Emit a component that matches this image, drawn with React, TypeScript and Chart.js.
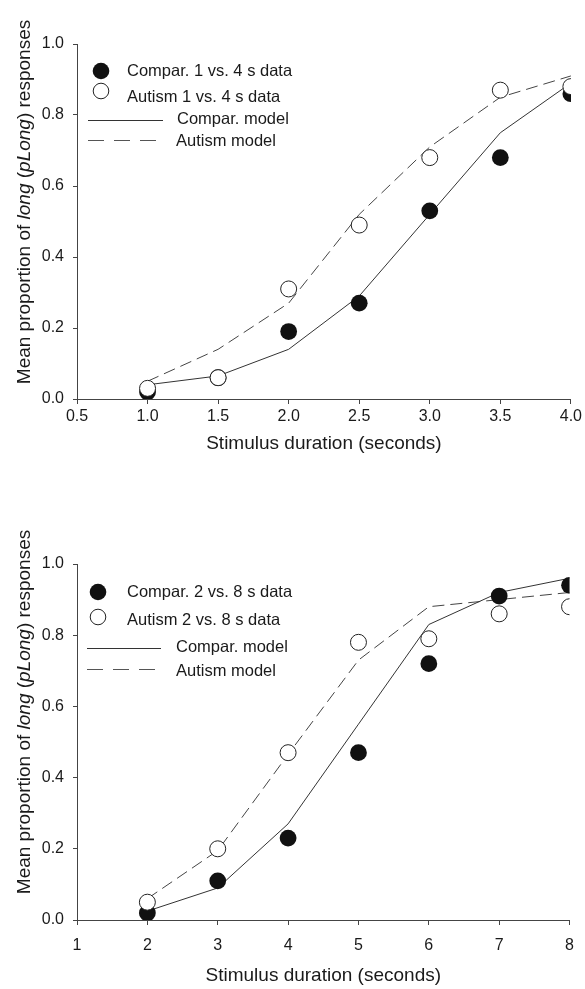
import React, { useEffect, useRef } from "react";
import { Chart, registerables } from "chart.js";

Chart.register(...registerables);

const FONT = "'Liberation Sans', Arial, Helvetica, sans-serif";

// ---- Panel A: 1 vs. 4 s ----
const durationsA = [1.0, 1.5, 2.0, 2.5, 3.0, 3.5, 4.0];
const comparDataA = [0.02, 0.06, 0.19, 0.27, 0.53, 0.68, 0.86];
const autismDataA = [0.03, 0.06, 0.31, 0.49, 0.68, 0.87, 0.88];
const comparModelA = [0.04, 0.065, 0.14, 0.29, 0.52, 0.75, 0.89];
const autismModelA = [0.05, 0.14, 0.27, 0.52, 0.71, 0.85, 0.91];
const xTicksA = [0.5, 1.0, 1.5, 2.0, 2.5, 3.0, 3.5, 4.0];
const legendA = ["Compar. 1 vs. 4 s data", "Autism 1 vs. 4 s data", "Compar. model", "Autism model"];

// ---- Panel B: 2 vs. 8 s ----
const durationsB = [2, 3, 4, 5, 6, 7, 8];
const comparDataB = [0.02, 0.11, 0.23, 0.47, 0.72, 0.91, 0.94];
const autismDataB = [0.05, 0.2, 0.47, 0.78, 0.79, 0.86, 0.88];
const comparModelB = [0.025, 0.09, 0.27, 0.55, 0.83, 0.92, 0.96];
const autismModelB = [0.06, 0.195, 0.465, 0.73, 0.88, 0.9, 0.92];
const xTicksB = [1, 2, 3, 4, 5, 6, 7, 8];
const legendB = ["Compar. 2 vs. 8 s data", "Autism 2 vs. 8 s data", "Compar. model", "Autism model"];

const yTicks = [0, 0.2, 0.4, 0.6, 0.8, 1.0];
const xTitle = "Stimulus duration (seconds)";
const yTitleParts: [string, boolean][] = [
  ["Mean proportion of ", false],
  ["long", true],
  [" (", false],
  ["pLong", true],
  [") responses", false],
];

const INK = "#1a1a1a";
const AXIS = "#444";

type Layout = {
  height: number;
  padTop: number;
  xAxisHeight: number;
  xTickPad: number;
  xTitleDy: number;
  yTitleCy: number;
  leg: {
    dot: [number, number];
    dotText: [number, number];
    open: [number, number];
    openText: [number, number];
    solid: [number, number, number];
    solidText: [number, number];
    dash: [number, number, number];
    dashText: [number, number];
  };
};

const layoutA: Layout = {
  height: 490,
  padTop: 44,
  xAxisHeight: 91,
  xTickPad: 3,
  xTitleDy: 45,
  yTitleCy: 202,
  leg: {
    dot: [24, 27],
    dotText: [50, 27],
    open: [24, 47],
    openText: [50, 53],
    solid: [11, 86, 76],
    solidText: [100, 75],
    dash: [11, 86, 96],
    dashText: [99, 97],
  },
};

const layoutB: Layout = {
  height: 499,
  padTop: 74,
  xAxisHeight: 69,
  xTickPad: 11,
  xTitleDy: 56,
  yTitleCy: 222,
  leg: {
    dot: [21, 28],
    dotText: [50, 28],
    open: [21, 53],
    openText: [50, 56],
    solid: [10, 84, 84],
    solidText: [99, 83],
    dash: [10, 84, 105],
    dashText: [99, 107],
  },
};

function pts(xs: number[], ys: number[]) {
  return xs.map((x, i) => ({ x, y: ys[i] }));
}

function buildChart(
  canvas: HTMLCanvasElement,
  xs: number[],
  cData: number[],
  aData: number[],
  cModel: number[],
  aModel: number[],
  xTicks: number[],
  legend: string[],
  lay: Layout
) {
  const xMin = xTicks[0];
  const xMax = xTicks[xTicks.length - 1];
  const decimals = xTicks.some((t) => !Number.isInteger(t)) ? 1 : 0;

  const decor = {
    id: "decor",
    afterDraw(chart: any) {
      const ctx = chart.ctx as CanvasRenderingContext2D;
      const a = chart.chartArea;
      ctx.save();
      // y title (mixed italic)
      ctx.translate(25, lay.yTitleCy);
      ctx.rotate(-Math.PI / 2);
      ctx.fillStyle = INK;
      ctx.textBaseline = "middle";
      ctx.textAlign = "left";
      let total = 0;
      const widths = yTitleParts.map(([t, it]) => {
        ctx.font = `${it ? "italic " : ""}19px ${FONT}`;
        const w = ctx.measureText(t).width;
        total += w;
        return w;
      });
      let xPos = -total / 2;
      yTitleParts.forEach(([t, it], i) => {
        ctx.font = `${it ? "italic " : ""}19px ${FONT}`;
        ctx.fillText(t, xPos, 0);
        xPos += widths[i];
      });
      ctx.restore();

      // x title
      ctx.save();
      ctx.font = `19px ${FONT}`;
      ctx.fillStyle = INK;
      ctx.textAlign = "center";
      ctx.textBaseline = "middle";
      ctx.fillText(xTitle, (a.left + a.right) / 2, a.bottom + lay.xTitleDy);
      ctx.restore();

      // legend
      const L = lay.leg;
      const ox = a.left;
      const oy = a.top;
      ctx.save();
      ctx.font = `16.5px ${FONT}`;
      ctx.fillStyle = INK;
      ctx.textAlign = "left";
      ctx.textBaseline = "middle";
      // filled dot
      ctx.beginPath();
      ctx.arc(ox + L.dot[0], oy + L.dot[1], 8.3, 0, Math.PI * 2);
      ctx.fillStyle = "#111";
      ctx.fill();
      ctx.fillStyle = INK;
      ctx.fillText(legend[0], ox + L.dotText[0], oy + L.dotText[1]);
      // open dot
      ctx.beginPath();
      ctx.arc(ox + L.open[0], oy + L.open[1], 7.8, 0, Math.PI * 2);
      ctx.fillStyle = "#fff";
      ctx.fill();
      ctx.lineWidth = 1;
      ctx.strokeStyle = "#222";
      ctx.stroke();
      ctx.fillStyle = INK;
      ctx.fillText(legend[1], ox + L.openText[0], oy + L.openText[1]);
      // solid line
      ctx.beginPath();
      ctx.strokeStyle = "#333";
      ctx.lineWidth = 1;
      ctx.moveTo(ox + L.solid[0], oy + L.solid[2] + 0.5);
      ctx.lineTo(ox + L.solid[1], oy + L.solid[2] + 0.5);
      ctx.stroke();
      ctx.fillText(legend[2], ox + L.solidText[0], oy + L.solidText[1]);
      // dashed line
      ctx.beginPath();
      ctx.strokeStyle = "#555";
      ctx.setLineDash([16, 10]);
      ctx.moveTo(ox + L.dash[0], oy + L.dash[2] + 0.5);
      ctx.lineTo(ox + L.dash[1], oy + L.dash[2] + 0.5);
      ctx.stroke();
      ctx.setLineDash([]);
      ctx.fillText(legend[3], ox + L.dashText[0], oy + L.dashText[1]);
      ctx.restore();
    },
  };

  return new Chart(canvas, {
    type: "scatter",
    data: {
      datasets: [
        {
          label: legend[1],
          data: pts(xs, aData),
          pointRadius: 8,
          pointBackgroundColor: "#fff",
          pointBorderColor: "#222",
          pointBorderWidth: 1,
          showLine: false,
          order: 0,
        },
        {
          label: legend[0],
          data: pts(xs, cData),
          pointRadius: 8.4,
          pointBackgroundColor: "#111",
          pointBorderColor: "#111",
          pointBorderWidth: 0,
          showLine: false,
          order: 1,
        },
        {
          label: legend[2],
          data: pts(xs, cModel),
          showLine: true,
          borderColor: "#333",
          borderWidth: 1,
          pointRadius: 0,
          tension: 0,
          order: 2,
        },
        {
          label: legend[3],
          data: pts(xs, aModel),
          showLine: true,
          borderColor: "#444",
          borderWidth: 1,
          borderDash: [12, 6],
          pointRadius: 0,
          tension: 0,
          order: 3,
        },
      ],
    },
    options: {
      responsive: false,
      animation: false,
      devicePixelRatio: 1,
      layout: { padding: { left: 0, right: 14, top: lay.padTop, bottom: 0 } },
      plugins: { legend: { display: false }, tooltip: { enabled: false } },
      scales: {
        x: {
          type: "linear",
          min: xMin,
          max: xMax,
          afterBuildTicks: (scale: any) => {
            scale.ticks = xTicks.map((v) => ({ value: v }));
          },
          afterFit: (scale: any) => {
            scale.height = lay.xAxisHeight;
          },
          ticks: {
            color: INK,
            font: { family: FONT, size: 16 },
            padding: lay.xTickPad,
            maxRotation: 0,
            autoSkip: false,
            callback: (v: any) => Number(v).toFixed(decimals),
          },
          grid: {
            display: true,
            drawOnChartArea: false,
            drawTicks: true,
            tickLength: 5,
            color: AXIS,
          },
          border: { display: true, color: AXIS, width: 1 },
        },
        y: {
          type: "linear",
          min: 0,
          max: 1,
          afterBuildTicks: (scale: any) => {
            scale.ticks = yTicks.map((v) => ({ value: v }));
          },
          afterFit: (scale: any) => {
            scale.width = 77;
          },
          ticks: {
            color: INK,
            font: { family: FONT, size: 16 },
            padding: 9,
            callback: (v: any) => Number(v).toFixed(1),
          },
          grid: {
            display: true,
            drawOnChartArea: false,
            drawTicks: true,
            tickLength: 4,
            color: AXIS,
          },
          border: { display: true, color: AXIS, width: 1 },
        },
      },
    },
    plugins: [decor],
  } as any);
}

export default function App() {
  const refA = useRef<HTMLCanvasElement>(null);
  const refB = useRef<HTMLCanvasElement>(null);

  useEffect(() => {
    const cA = buildChart(refA.current!, durationsA, comparDataA, autismDataA, comparModelA, autismModelA, xTicksA, legendA, layoutA);
    const cB = buildChart(refB.current!, durationsB, comparDataB, autismDataB, comparModelB, autismModelB, xTicksB, legendB, layoutB);
    return () => {
      cA.destroy();
      cB.destroy();
    };
  }, []);

  return (
    <div style={{ position: "absolute", left: 0, top: 0, width: 585, height: 989, background: "#fff" }}>
      <canvas ref={refA} width={585} height={layoutA.height} style={{ display: "block", width: 585, height: layoutA.height }} />
      <canvas ref={refB} width={585} height={layoutB.height} style={{ display: "block", width: 585, height: layoutB.height }} />
    </div>
  );
}
